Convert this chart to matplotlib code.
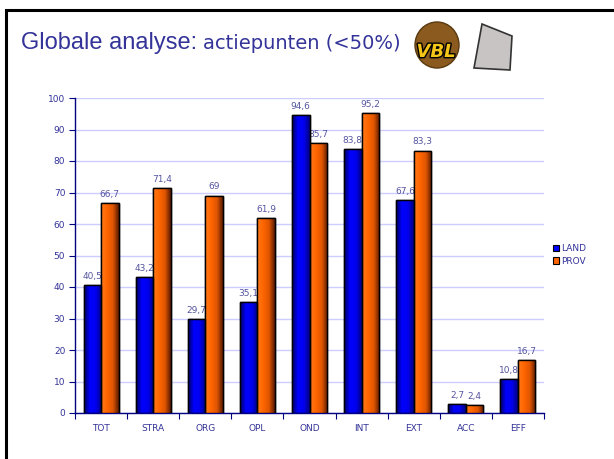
import numpy as np
import matplotlib
matplotlib.use('Agg')
import matplotlib.pyplot as plt
from matplotlib.patches import Rectangle, Ellipse, Polygon
from matplotlib.colors import LinearSegmentedColormap
import matplotlib.patheffects as pe

categories = ['TOT', 'STRA', 'ORG', 'OPL', 'OND', 'INT', 'EXT', 'ACC', 'EFF']
land = [40.5, 43.2, 29.7, 35.1, 94.6, 83.8, 67.6, 2.7, 10.8]
prov = [66.7, 71.4, 69, 61.9, 85.7, 95.2, 83.3, 2.4, 16.7]
series_names = ['LAND', 'PROV']
yticks = list(range(0, 101, 10))

txt_col = '#333399'
axis_col = '#000080'
W, H = 614, 459


def fx(px):
    return px / W


def fy(py):
    return 1 - py / H


fig = plt.figure(figsize=(6.14, 4.59), dpi=100)

# slide frame
fig.add_artist(Rectangle((fx(6), -0.1), 1.2, fy(10) + 0.1, transform=fig.transFigure,
                         fill=False, ec='black', lw=2.2))

# title
fig.text(fx(21), fy(49), 'Globale analyse:', fontsize=17, color=txt_col,
         family='Liberation Sans', va='baseline')
fig.text(fx(203), fy(49), 'actiepunten (<50%)', fontsize=14, color=txt_col,
         family='DejaVu Sans', va='baseline')

# rough logos
fig.add_artist(Ellipse((fx(437), fy(45)), 44 / W, 46 / H, transform=fig.transFigure,
                       fc='#8a5a1e', ec='#5a3a10', lw=1))
fig.text(fx(436), fy(52), 'VBL', fontsize=13, color='#f5c518', fontweight='bold',
         style='italic', ha='center', va='center', family='DejaVu Sans',
         path_effects=[pe.withStroke(linewidth=2, foreground='black')])
fig.add_artist(Polygon([[fx(482), fy(24)], [fx(512), fy(36)], [fx(510), fy(70)], [fx(474), fy(68)]],
                       closed=True, transform=fig.transFigure, fc='#c8c4c4', ec='#333333', lw=1.2))

ax = fig.add_axes([fx(75), fy(413), (544 - 75) / W, (413 - 98) / H])

x = np.arange(len(categories)) + 0.5
w = 0.336

blue_cm = LinearSegmentedColormap.from_list('b', ['#000060', '#0000ff', '#0000ee', '#000080'])
orange_cm = LinearSegmentedColormap.from_list('o', ['#ff7a1a', '#ff6600', '#e05500', '#5a1a00'])
grad = np.linspace(0, 1, 64).reshape(1, -1)

bars_land = ax.bar(x - w / 2, land, w, color='#0000ff', edgecolor='black', lw=1, zorder=3)
bars_prov = ax.bar(x + w / 2, prov, w, color='#ff6600', edgecolor='black', lw=1, zorder=3)

for bars, cm in [(bars_land, blue_cm), (bars_prov, orange_cm)]:
    for b in bars:
        x0, y0 = b.get_x(), b.get_y()
        im = ax.imshow(grad, cmap=cm, extent=[x0, x0 + b.get_width(), y0, y0 + b.get_height()],
                       aspect='auto', zorder=3.1)
        im.set_clip_path(b)
        r = Rectangle((x0, y0), b.get_width(), b.get_height(), fill=False, ec='black', lw=1, zorder=3.2)
        ax.add_patch(r)

for bars, vals in [(bars_land, land), (bars_prov, prov)]:
    for b, v in zip(bars, vals):
        s = ('%g' % v).replace('.', ',')
        ax.annotate(s, (b.get_x() + b.get_width() / 2, v), xytext=(0, 3),
                    textcoords='offset points', ha='center', va='bottom',
                    fontsize=6.5, color='#5555a0', zorder=2)

ax.set_xlim(0, len(categories))
ax.set_ylim(0, 100)
ax.set_yticks(yticks)
ax.yaxis.grid(True, color='#ccccff', lw=1)
ax.set_axisbelow(True)

ax.set_xticks(np.arange(len(categories) + 1))
ax.set_xticklabels([])
ax.set_xticks(x, minor=True)
ax.set_xticklabels(categories, minor=True)
ax.tick_params(axis='x', which='minor', length=0, pad=8, labelsize=6.5, labelcolor=txt_col)
ax.tick_params(axis='x', which='major', length=4, color=axis_col)
ax.tick_params(axis='y', length=4, color=axis_col, labelsize=6.5, labelcolor=txt_col, pad=3)

for s in ['top', 'right']:
    ax.spines[s].set_visible(False)
for s in ['left', 'bottom']:
    ax.spines[s].set_color(axis_col)
    ax.spines[s].set_linewidth(1)

handles = [Rectangle((0, 0), 1, 1, fc='#0000ff', ec='black', lw=0.8),
           Rectangle((0, 0), 1, 1, fc='#ff6600', ec='black', lw=0.8)]
leg = fig.legend(handles, series_names, loc='center left', bbox_to_anchor=(fx(548), fy(255)),
                 frameon=False, fontsize=6.5, handlelength=0.7, handleheight=0.7,
                 handletextpad=0.2, labelspacing=0.4, borderpad=0)
for t in leg.get_texts():
    t.set_color(txt_col)

fig.savefig('out.png', dpi=100)
